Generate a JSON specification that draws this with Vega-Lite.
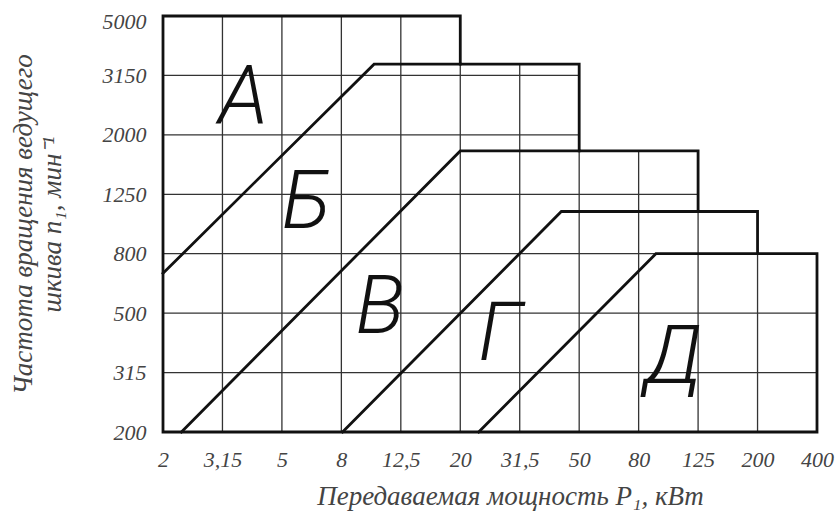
{
  "$schema": "https://vega.github.io/schema/vega-lite/v6.json",
  "width": 654,
  "height": 416,
  "autosize": "none",
  "padding": {"left": 163, "top": 16, "right": 18, "bottom": 85},
  "background": "white",
  "config": {
    "view": {"stroke": null},
    "axis": {
      "domain": false,
      "ticks": false,
      "grid": false,
      "labelFont": "Liberation Serif",
      "labelFontStyle": "italic",
      "labelFontWeight": "normal",
      "labelFontSize": 22,
      "labelColor": "#444",
      "titleFont": "Liberation Serif",
      "titleFontStyle": "italic",
      "titleFontWeight": "normal",
      "titleFontSize": 27,
      "titleColor": "#444"
    }
  },
  "datasets": {
    "thick": [
      {"s": "outline", "o": 0, "x": 0, "y": 0},
      {"s": "outline", "o": 1, "x": 0, "y": 7},
      {"s": "outline", "o": 2, "x": 5, "y": 7},
      {"s": "outline", "o": 3, "x": 5, "y": 6.19},
      {"s": "outline", "o": 4, "x": 7, "y": 6.19},
      {"s": "outline", "o": 5, "x": 7, "y": 4.73},
      {"s": "outline", "o": 6, "x": 9, "y": 4.73},
      {"s": "outline", "o": 7, "x": 9, "y": 3.71},
      {"s": "outline", "o": 8, "x": 10, "y": 3.71},
      {"s": "outline", "o": 9, "x": 10, "y": 3.0},
      {"s": "outline", "o": 10, "x": 11, "y": 3.0},
      {"s": "outline", "o": 11, "x": 11, "y": 0},
      {"s": "outline", "o": 12, "x": 0, "y": 0},
      {"s": "l1", "o": 0, "x": 0, "y": 2.67},
      {"s": "l1", "o": 1, "x": 3.55, "y": 6.19},
      {"s": "l1", "o": 2, "x": 5, "y": 6.19},
      {"s": "l2", "o": 0, "x": 0.31, "y": 0},
      {"s": "l2", "o": 1, "x": 5, "y": 4.73},
      {"s": "l2", "o": 2, "x": 7, "y": 4.73},
      {"s": "l3", "o": 0, "x": 3.02, "y": 0},
      {"s": "l3", "o": 1, "x": 6.7, "y": 3.71},
      {"s": "l3", "o": 2, "x": 9, "y": 3.71},
      {"s": "l4", "o": 0, "x": 5.31, "y": 0},
      {"s": "l4", "o": 1, "x": 8.29, "y": 3.0},
      {"s": "l4", "o": 2, "x": 10, "y": 3.0}
    ],
    "grid": [
      {"x0": 1, "x1": 1, "y0": 0, "y1": 7},
      {"x0": 2, "x1": 2, "y0": 0, "y1": 7},
      {"x0": 3, "x1": 3, "y0": 0, "y1": 7},
      {"x0": 4, "x1": 4, "y0": 0, "y1": 7},
      {"x0": 5, "x1": 5, "y0": 0, "y1": 6.19},
      {"x0": 6, "x1": 6, "y0": 0, "y1": 6.19},
      {"x0": 7, "x1": 7, "y0": 0, "y1": 4.73},
      {"x0": 8, "x1": 8, "y0": 0, "y1": 4.73},
      {"x0": 9, "x1": 9, "y0": 0, "y1": 3.71},
      {"x0": 10, "x1": 10, "y0": 0, "y1": 3.0},
      {"x0": 0, "x1": 11, "y0": 1, "y1": 1},
      {"x0": 0, "x1": 11, "y0": 2, "y1": 2},
      {"x0": 0, "x1": 8.29, "y0": 3, "y1": 3},
      {"x0": 0, "x1": 9, "y0": 4, "y1": 4},
      {"x0": 0, "x1": 7, "y0": 5, "y1": 5},
      {"x0": 0, "x1": 7, "y0": 6, "y1": 6}
    ],
    "zones": [
      {"t": "А", "x": 1.35, "y": 5.62},
      {"t": "Б", "x": 2.42, "y": 3.86},
      {"t": "В", "x": 3.65, "y": 2.09},
      {"t": "Г", "x": 5.67, "y": 1.63},
      {"t": "Д", "x": 8.58, "y": 1.25}
    ]
  },
  "layer": [
    {
      "data": {"name": "grid"},
      "mark": {"type": "rule", "color": "#333", "strokeWidth": 1.3},
      "encoding": {
        "x": {
          "field": "x0", "type": "quantitative",
          "scale": {"domain": [0, 11], "nice": false, "zero": false},
          "axis": {
            "values": [0, 1, 2, 3, 4, 5, 6, 7, 8, 9, 10, 11],
            "labelExpr": "['2','3,15','5','8','12,5','20','31,5','50','80','125','200','400'][datum.value]",
            "labelPadding": 17,
            "labelFlush": false,
            "labelOverlap": false,
            "titlePadding": 13,
            "titleX": 347
          },
          "title": "Передаваемая мощность P₁, кВт"
        },
        "x2": {"field": "x1"},
        "y": {
          "field": "y0", "type": "quantitative",
          "scale": {"domain": [0, 7], "nice": false, "zero": false},
          "axis": {
            "values": [0, 1, 2, 3, 4, 5, 6, 7],
            "labelExpr": "['200','315','500','800','1250','2000','3150','5000'][datum.value]",
            "labelPadding": 17,
            "labelFlush": false,
            "labelOverlap": false,
            "labelOffset": {"condition": {"test": "datum.value == 7", "value": 5}, "value": 0},
            "titlePadding": 36
          },
          "title": ["Частота вращения ведущего", "шкива n₁, мин⁻¹"]
        },
        "y2": {"field": "y1"}
      }
    },
    {
      "data": {"name": "thick"},
      "mark": {"type": "line", "color": "#111", "strokeWidth": 2.8, "strokeJoin": "miter", "strokeCap": "square"},
      "encoding": {
        "x": {"field": "x", "type": "quantitative", "title": "Передаваемая мощность P₁, кВт"},
        "y": {"field": "y", "type": "quantitative", "title": ["Частота вращения ведущего", "шкива n₁, мин⁻¹"]},
        "detail": {"field": "s", "type": "nominal"},
        "order": {"field": "o", "type": "quantitative"}
      }
    },
    {
      "data": {"name": "zones"},
      "mark": {"type": "text", "font": "Roboto", "fontStyle": "italic", "fontWeight": 300, "fontSize": 82, "color": "#111", "align": "center", "baseline": "middle"},
      "encoding": {
        "x": {"field": "x", "type": "quantitative", "title": "Передаваемая мощность P₁, кВт"},
        "y": {"field": "y", "type": "quantitative", "title": ["Частота вращения ведущего", "шкива n₁, мин⁻¹"]},
        "text": {"field": "t"}
      }
    }
  ]
}
